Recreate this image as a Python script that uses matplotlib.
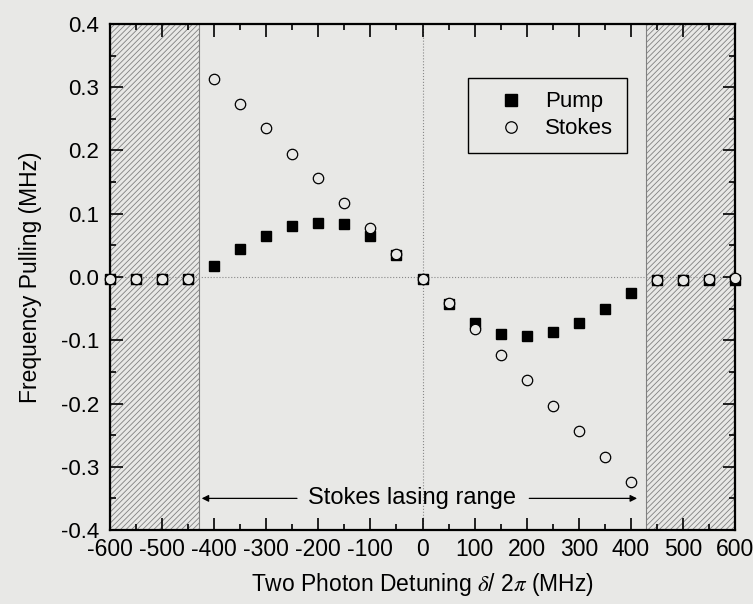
import matplotlib
matplotlib.use("Agg")
import matplotlib.pyplot as plt
from matplotlib.ticker import MultipleLocator

# detuning in MHz, pulling in MHz
detuning = [-600, -550, -500, -450, -400, -350, -300, -250, -200, -150, -100, -50,
            0, 50, 100, 150, 200, 250, 300, 350, 400, 450, 500, 550, 600]
pump = [-0.003, -0.003, -0.003, -0.003, 0.018, 0.044, 0.065, 0.080, 0.086, 0.083,
        0.065, 0.035, -0.003, -0.043, -0.072, -0.090, -0.094, -0.087, -0.072,
        -0.051, -0.025, -0.004, -0.004, -0.005, -0.005]
stokes = [-0.003, -0.003, -0.003, -0.003, 0.313, 0.274, 0.235, 0.195, 0.156, 0.117,
          0.077, 0.036, -0.003, -0.041, -0.083, -0.124, -0.163, -0.204, -0.244,
          -0.284, -0.324, -0.004, -0.004, -0.003, -0.002]
lasing_range = (-430, 430)

bg = '#e8e8e6'
plt.rcParams['font.family'] = ['Liberation Sans', 'DejaVu Sans']
plt.rcParams['mathtext.fontset'] = 'stix'
plt.rcParams['axes.unicode_minus'] = False
plt.rcParams['hatch.linewidth'] = 0.6

fig = plt.figure(figsize=(7.53, 6.04), dpi=100, facecolor=bg)
ax = fig.add_axes([0.1461, 0.1225, 0.8300, 0.8378], facecolor=bg)

# hatched regions outside the Stokes lasing range
for x0, x1 in [(-600, lasing_range[0]), (lasing_range[1], 600)]:
    ax.axvspan(x0, x1, facecolor='none', edgecolor='#808080', hatch='//////', lw=0.8, zorder=1)

ax.axhline(0, color='#888888', lw=0.8, ls=':', zorder=1)
ax.axvline(0, color='#888888', lw=0.8, ls=':', zorder=1)

ax.plot(detuning, pump, ls='none', marker='s', ms=7.5, mfc='black', mec='black',
        label='Pump', zorder=3, clip_on=False)
ax.plot(detuning, stokes, ls='none', marker='o', ms=7.5, mfc=bg, mec='black',
        mew=0.9, label='Stokes', zorder=4, clip_on=False)

ax.set_xlim(-600, 600)
ax.set_ylim(-0.4, 0.4)
ax.xaxis.set_major_locator(MultipleLocator(100))
ax.xaxis.set_minor_locator(MultipleLocator(50))
ax.yaxis.set_major_locator(MultipleLocator(0.1))
ax.yaxis.set_minor_locator(MultipleLocator(0.05))
ax.yaxis.set_major_formatter(plt.FuncFormatter(lambda v, p: '%.1f' % v))
ax.tick_params(which='both', direction='in', top=True, right=True, width=1.2)
ax.tick_params(which='major', length=9)
ax.tick_params(which='minor', length=4)
ax.tick_params(axis='x', labelsize=16.5, pad=6)
ax.tick_params(axis='y', labelsize=16, pad=8)
for s in ax.spines.values():
    s.set_linewidth(1.6)

ax.set_xlabel(r'Two Photon Detuning $\delta$/ 2$\pi$ (MHz)', fontsize=16.5, labelpad=7)
ax.set_ylabel('Frequency Pulling (MHz)', fontsize=16.5, labelpad=13)

# Stokes lasing range marker
ax.text(-21, -0.35, 'Stokes lasing range', ha='center', va='center', fontsize=17, zorder=5)
ax.annotate('', xy=(-424, -0.35), xytext=(-241, -0.35),
            arrowprops=dict(arrowstyle='-|>', color='black', lw=0.9, mutation_scale=10,
                            shrinkA=0, shrinkB=0))
ax.annotate('', xy=(412, -0.35), xytext=(205, -0.35),
            arrowprops=dict(arrowstyle='-|>', color='black', lw=0.9, mutation_scale=10,
                            shrinkA=0, shrinkB=0))

leg = ax.legend(loc='upper left', bbox_to_anchor=(0.572, 0.893), borderaxespad=0,
                fancybox=False, edgecolor='black', facecolor=bg, framealpha=1,
                fontsize=16, handlelength=2.75, handletextpad=0.15, borderpad=0.6,
                labelspacing=0.27, markerscale=1.1)
leg.get_frame().set_linewidth(1.0)

fig.savefig('out.png', dpi=100, facecolor=bg)
